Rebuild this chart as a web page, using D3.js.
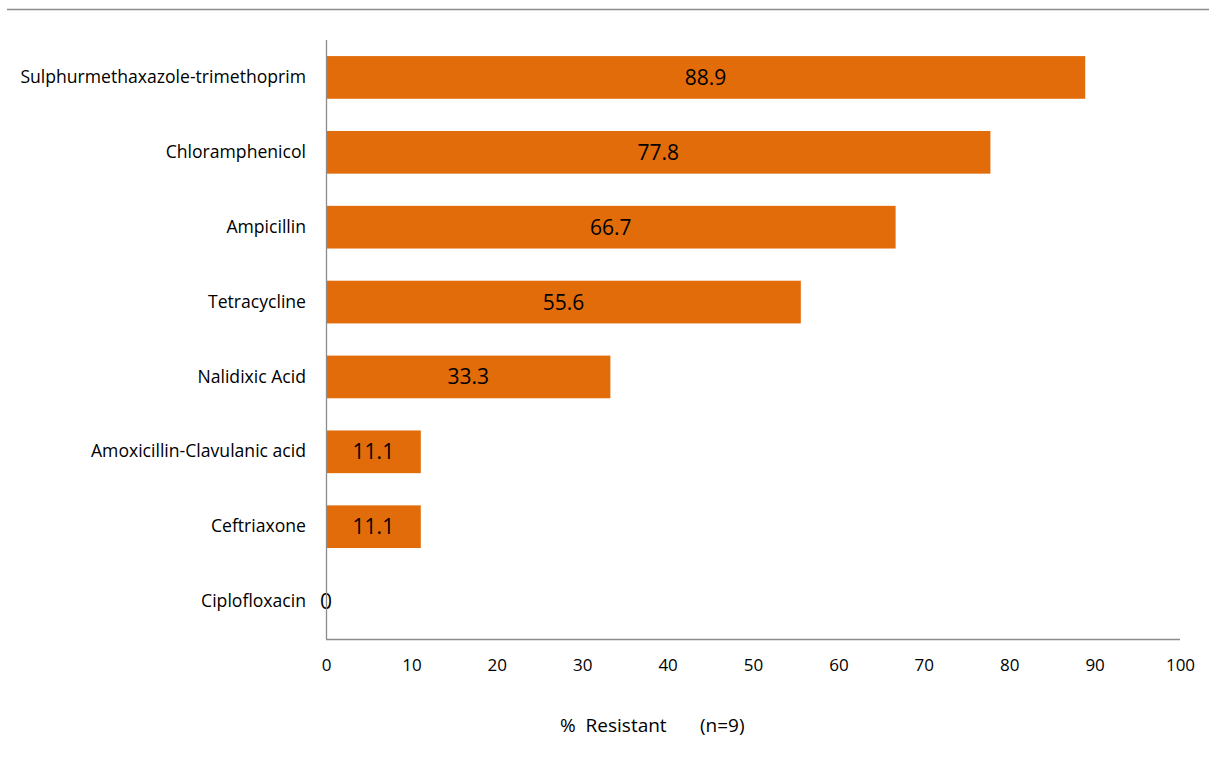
<!DOCTYPE html>
<html>
<head>
<meta charset="utf-8">
<script src="https://cdn.jsdelivr.net/npm/d3@7"></script>
<style>
  html, body { margin: 0; padding: 0; background: #fff; }
  svg { display: block; font-family: "Open Sans", "Noto Sans", sans-serif; }
</style>
</head>
<body>
<svg id="chart" width="1209" height="760"></svg>
<script>
const categories = [
  "Sulphurmethaxazole-trimethoprim",
  "Chloramphenicol",
  "Ampicillin",
  "Tetracycline ",
  "Nalidixic Acid",
  "Amoxicillin-Clavulanic acid",
  "Ceftriaxone",
  "Ciplofloxacin"
];
const values = [88.9, 77.8, 66.7, 55.6, 33.3, 11.1, 11.1, 0];
const xTicks = [0, 10, 20, 30, 40, 50, 60, 70, 80, 90, 100];
const axisTitleParts = ["% \u00A0Resistant", "(n=9)"];

(function () {
const svg = d3.select("#chart");
const mLeft = 326, mRight = 1180, mTop = 40, mBottom = 639;

// top border line
svg.append("line")
  .attr("x1", 7).attr("x2", 1209).attr("y1", 9.5).attr("y2", 9.5)
  .attr("stroke", "#8c8c8c").attr("stroke-width", 1.3);

const x = d3.scaleLinear().domain([0, 100]).range([mLeft, mRight]);
const y = d3.scaleBand().domain(categories).range([mTop, mBottom]).paddingInner(0.43).paddingOuter(0.215);

// bars
svg.append("g").selectAll("rect").data(values).join("rect")
  .attr("x", x(0))
  .attr("y", (d, i) => y(categories[i]))
  .attr("width", d => x(d) - x(0))
  .attr("height", y.bandwidth())
  .attr("fill", "#E36C0A");

// value labels
svg.append("g").selectAll("text").data(values).join("text")
  .attr("x", d => (x(d) + x(0)) / 2)
  .attr("y", (d, i) => y(categories[i]) + y.bandwidth() / 2)
  .attr("dy", "0.36em")
  .attr("text-anchor", "middle")
  .attr("font-size", 21)
  .attr("fill", "#000")
  .text(d => d === 0 ? "0" : d3.format(".1f")(d));

// y axis
const yAxis = d3.axisLeft(y).tickSize(0).tickPadding(20);
const gy = svg.append("g").attr("transform", `translate(${mLeft},0)`).call(yAxis);
gy.select(".domain").attr("stroke", "#8c8c8c").attr("stroke-width", 1.3)
  .attr("d", `M0.5,${mTop}V${mBottom}`);
gy.selectAll("text").attr("font-size", 17.6).attr("fill", "#000")
  .attr("font-family", "Open Sans, sans-serif");

// x axis
const xAxis = d3.axisBottom(x).tickValues(xTicks).tickSize(0).tickPadding(20).tickFormat(d3.format("d"));
const gx = svg.append("g").attr("transform", `translate(0,${mBottom})`).call(xAxis);
gx.select(".domain").attr("stroke", "#8c8c8c").attr("stroke-width", 1.3)
  .attr("d", `M${mLeft},0.5H${mRight}`);
gx.selectAll("text").attr("font-size", 17).attr("fill", "#000")
  .attr("font-family", "Open Sans, sans-serif");

// axis title
const t = svg.append("text")
  .attr("y", 732)
  .attr("font-size", 19)
  .attr("fill", "#000");
t.append("tspan").attr("x", 560).text(axisTitleParts[0]);
t.append("tspan").attr("x", 700).text(axisTitleParts[1]);
})();
</script>
</body>
</html>
